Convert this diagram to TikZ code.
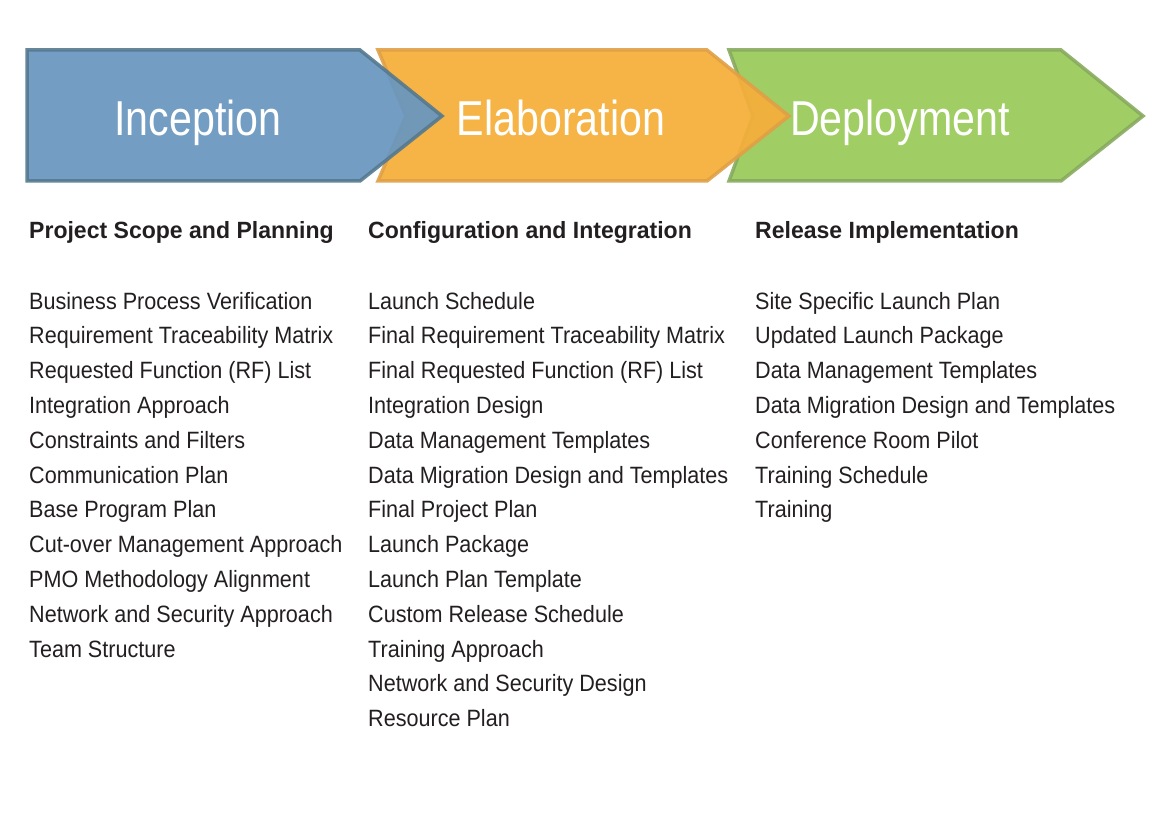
\documentclass[tikz,border=0pt]{standalone}
\usepackage{fontspec}
\setmainfont{Liberation Sans}
\newfontfamily\phasefont[FakeStretch=0.84]{Liberation Sans}
\newfontfamily\listfont[FakeStretch=0.915]{Liberation Sans}
\newfontfamily\capfont[FakeStretch=0.98]{Liberation Sans}
\usetikzlibrary{positioning}

\definecolor{incfill}{HTML}{6A97BF}
\definecolor{incline}{HTML}{55798F}
\definecolor{elafill}{HTML}{F5AF3C}
\definecolor{elaline}{HTML}{E0A046}
\definecolor{depfill}{HTML}{9ACA5A}
\definecolor{depline}{HTML}{88AB5F}
\definecolor{ink}{HTML}{231F20}

\begin{document}
\begin{tikzpicture}[x=1pt,y=-1pt]
  \tikzstyle{chevron} = [line width=3.5pt, line join=miter, fill opacity=0.94, draw opacity=0.9]
  \tikzstyle{phasetitle} = [anchor=base, inner sep=0pt, text=white, font=\phasefont\fontsize{49}{55}\selectfont]
  \tikzstyle{colhead} = [anchor=base west, inner sep=0pt, text=ink, font=\capfont\bfseries\fontsize{23.5}{28}\selectfont]
  \tikzstyle{item} = [anchor=base west, inner sep=0pt, text=ink, font=\listfont\fontsize{23.6}{28}\selectfont]

  \useasboundingbox (0,0) rectangle (1165,832);

  % Chevrons
  \draw[chevron, draw=depline, fill=depfill] (729,50) -- (1061,50) -- (1143,116) -- (1061,181) -- (729,181) -- (753,116) -- cycle;
  \draw[chevron, draw=elaline, fill=elafill] (378,50) -- (707,50) -- (789,116) -- (707,181) -- (378,181) -- (406,116) -- cycle;
  \draw[chevron, draw=incline, fill=incfill] (27,50) -- (360,50) -- (442,116) -- (360,181) -- (27,181) -- cycle;

  % Phase titles
  \node (inception) at (198,136) [phasetitle] {Inception};
  \node (elaboration) at (561,136) [phasetitle] {Elaboration};
  \node (deployment) at (900,136) [phasetitle] {Deployment};

  % Column headings
  \node (scope) at (29,238) [colhead] {Project Scope and Planning};
  \node (config) at (368,238) [colhead] {Configuration and Integration};
  \node (release) at (755,238) [colhead] {Release Implementation};

  % Inception items
  \foreach \txt [count=\i from 0] in {Business Process Verification, Requirement Traceability Matrix,
      Requested Function (RF) List, Integration Approach, Constraints and Filters, Communication Plan,
      Base Program Plan, Cut-over Management Approach, PMO Methodology Alignment,
      Network and Security Approach, Team Structure}
    \node (inc\i) at (29,309+\i*34.8) [item] {\txt};

  % Elaboration items
  \foreach \txt [count=\i from 0] in {Launch Schedule, Final Requirement Traceability Matrix,
      Final Requested Function (RF) List, Integration Design, Data Management Templates,
      Data Migration Design and Templates, Final Project Plan, Launch Package,
      Launch Plan Template, Custom Release Schedule, Training Approach,
      Network and Security Design, Resource Plan}
    \node (ela\i) at (368,309+\i*34.8) [item] {\txt};

  % Deployment items
  \foreach \txt [count=\i from 0] in {Site Specific Launch Plan, Updated Launch Package,
      Data Management Templates, Data Migration Design and Templates, Conference Room Pilot,
      Training Schedule, Training}
    \node (dep\i) at (755,309+\i*34.8) [item] {\txt};
\end{tikzpicture}
\end{document}
